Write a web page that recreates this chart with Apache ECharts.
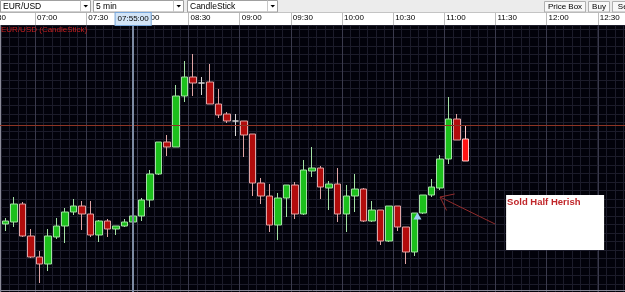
<!DOCTYPE html>
<html>
<head>
<meta charset="utf-8">
<script src="https://cdn.jsdelivr.net/npm/echarts@6/dist/echarts.min.js"></script>
<style>
  html, body { margin: 0; padding: 0; background: #000; overflow: hidden; }
  #chart { width: 625px; height: 292px; }
</style>
</head>
<body>
<div id="chart"></div>
<script>
(function () {
  'use strict';

  var FONT = '"Liberation Sans", Arial, sans-serif';

  // time slots (5 min bars)
  var firstSlot = '06:30';
  var lastSlot = '12:45';
  var firstCandle = '06:40';
  var tickLabels = ['06:30', '07:00', '07:30', '08:00', '08:30', '09:00', '09:30',
    '10:00', '10:30', '11:00', '11:30', '12:00', '12:30'];

  // EUR/USD 5 min bars, 06:40 .. 11:10
  var opens = [1.3201, 1.3203, 1.3221, 1.3189, 1.3168, 1.3161, 1.3188, 1.3199, 1.3213, 1.3219,
    1.3211, 1.3190, 1.3204, 1.3196, 1.3199, 1.3203, 1.3209, 1.3225, 1.3251, 1.3283,
    1.3278, 1.3329, 1.3348, 1.3342, 1.3343, 1.3321, 1.3311, 1.3304, 1.3304, 1.3291,
    1.3242, 1.3229, 1.3200, 1.3227, 1.3240, 1.3211, 1.3254, 1.3257, 1.3237, 1.3241,
    1.3211, 1.3229, 1.3236, 1.3204, 1.3215, 1.3184, 1.3219, 1.3198, 1.3173, 1.3212,
    1.3230, 1.3237, 1.3266, 1.3306, 1.3286];
  var closes = [1.3204, 1.3221, 1.3189, 1.3168, 1.3161, 1.3189, 1.3199, 1.3213, 1.3219, 1.3211,
    1.3190, 1.3204, 1.3196, 1.3199, 1.3203, 1.3209, 1.3225, 1.3251, 1.3283, 1.3278,
    1.3329, 1.3348, 1.3342, 1.3342, 1.3321, 1.3310, 1.3304, 1.3304, 1.3290, 1.3242,
    1.3229, 1.3200, 1.3227, 1.3240, 1.3211, 1.3255, 1.3257, 1.3238, 1.3241, 1.3211,
    1.3229, 1.3236, 1.3204, 1.3215, 1.3184, 1.3219, 1.3198, 1.3173, 1.3212, 1.3230,
    1.3238, 1.3266, 1.3306, 1.3285, 1.3264];
  var lows = [1.3194, 1.3198, 1.3188, 1.3167, 1.3142, 1.3154, 1.3186, 1.3182, 1.3210, 1.3195,
    1.3188, 1.3183, 1.3188, 1.3190, 1.3198, 1.3199, 1.3204, 1.3218, 1.3250, 1.3269,
    1.3278, 1.3323, 1.3329, 1.3330, 1.3321, 1.3307, 1.3302, 1.3289, 1.3268, 1.3229,
    1.3221, 1.3193, 1.3185, 1.3208, 1.3206, 1.3210, 1.3248, 1.3226, 1.3215, 1.3203,
    1.3193, 1.3213, 1.3203, 1.3203, 1.3180, 1.3183, 1.3194, 1.3161, 1.3169, 1.3211,
    1.3228, 1.3235, 1.3261, 1.3285, 1.3264];
  var highs = [1.3207, 1.3228, 1.3223, 1.3196, 1.3174, 1.3196, 1.3207, 1.3217, 1.3226, 1.3224,
    1.3224, 1.3205, 1.3206, 1.3199, 1.3206, 1.3212, 1.3227, 1.3255, 1.3283, 1.3290,
    1.3340, 1.3364, 1.3371, 1.3348, 1.3361, 1.3336, 1.3313, 1.3311, 1.3304, 1.3291,
    1.3247, 1.3241, 1.3232, 1.3240, 1.3243, 1.3265, 1.3278, 1.3259, 1.3244, 1.3257,
    1.3240, 1.3251, 1.3237, 1.3224, 1.3215, 1.3219, 1.3219, 1.3198, 1.3212, 1.3230,
    1.3246, 1.3270, 1.3328, 1.3311, 1.3299];

  var priceLine = 1.3272;
  var cursorTime = '07:55';
  var cursorLabel = '07:55:00';
  var signalTime = '10:40';
  var signalPrice = 1.3209;
  var noteText = 'Sold Half Herish';
  var noteTip = ['10:55', 1.3228];
  var noteTail = ['11:25', 1.3201];
  var noteCorner = ['11:35', 1.3230];
  var seriesTitle = 'EUR/USD (CandleStick)';
  var pickers = ['EUR/USD', '5 min', 'CandleStick'];
  var buttons = ['Price Box', 'Buy', 'Sell'];

  function toMin(t) { var p = t.split(':'); return +p[0] * 60 + +p[1]; }
  function fmt(m) { return ('0' + Math.floor(m / 60)).slice(-2) + ':' + ('0' + (m % 60)).slice(-2); }

  var slots = [];
  for (var m = toMin(firstSlot); m <= toMin(lastSlot); m += 5) slots.push(fmt(m));
  var edges = slots.concat([fmt(toMin(lastSlot) + 5)]);
  var startIdx = slots.indexOf(firstCandle);

  var candles = slots.map(function (t, i) {
    var k = i - startIdx;
    if (k < 0 || k >= opens.length) return ['-', '-', '-', '-'];
    return [opens[k], closes[k], lows[k], highs[k]];
  });
  var lastIdx = startIdx + opens.length - 1;
  candles[lastIdx] = { value: candles[lastIdx], itemStyle: { color0: '#ff1414', borderColor0: '#ffcaca' } };

  function onTick(i, v) { return tickLabels.indexOf(v) >= 0; }

  var BAND = 8.525;
  var chart = echarts.init(document.getElementById('chart'), null, { renderer: 'canvas' });

  chart.setOption({
    backgroundColor: '#02020a',
    animation: false,
    title: {
      text: seriesTitle, left: 1, top: 26, padding: 0,
      textStyle: { fontFamily: FONT, fontSize: 8, fontWeight: 'normal', color: '#c42020' },
    },
    grid: {
      left: 1 - 2 * BAND, top: 25, width: slots.length * BAND, height: 267.6,
      containLabel: false, outerBoundsMode: 'none',
    },
    xAxis: [{
      type: 'category', data: slots, position: 'bottom', boundaryGap: true,
      axisLine: { show: false }, axisTick: { show: false }, axisLabel: { show: false },
      splitLine: { show: true, interval: 0, lineStyle: { color: '#1c1c2a', width: 1 } },
    }, {
      type: 'category', data: edges, position: 'top', boundaryGap: false,
      axisLine: { show: false },
      axisTick: { show: true, interval: onTick, length: 12, lineStyle: { color: '#bdbdbd' } },
      axisLabel: {
        interval: onTick, align: 'left', margin: 3, padding: [0, 0, 0, 2],
        fontFamily: FONT, fontSize: 8, color: '#000',
      },
      splitLine: { show: true, interval: onTick, lineStyle: { color: '#3a3a4c', width: 1 } },
    }],
    yAxis: {
      type: 'value', min: 1.31324, max: 1.3400, interval: 0.00085,
      axisLine: { show: false }, axisTick: { show: false }, axisLabel: { show: false },
      splitLine: { show: true, lineStyle: { color: '#1c1c2a', width: 1 } },
    },
    series: [{
      type: 'candlestick',
      xAxisIndex: 0,
      yAxisIndex: 0,
      barWidth: 7,
      data: candles,
      itemStyle: {
        color: '#1cc01c', color0: '#b20c0c',
        borderColor: '#a4e2a4', borderColor0: '#e0a4a4', borderColorDoji: '#d8d8d8',
        borderWidth: 1,
      },
      markLine: {
        silent: true, symbol: 'none', animation: false,
        data: [
          { yAxis: priceLine, lineStyle: { color: '#8e3424', width: 1, type: 'solid' }, label: { show: false } },
          {
            xAxis: cursorTime,
            lineStyle: { color: '#7c8aa2', width: 2, type: 'solid' },
            label: {
              show: true, position: 'end', distance: 0, formatter: cursorLabel,
              fontFamily: FONT, fontSize: 8, lineHeight: 10, color: '#000',
              backgroundColor: '#d2e4f6', borderColor: '#78a6da', borderWidth: 1,
              padding: [1, 2, 1, 2],
            },
          },
        ],
      },
      markPoint: {
        silent: true, animation: false,
        symbol: 'triangle', symbolSize: [8, 7], symbolOffset: [3, 0],
        itemStyle: { color: '#9ccff3' },
        label: { show: false },
        data: [{ coord: [signalTime, signalPrice] }],
      },
    }],
  });

  // pixel from a slot + fraction of a band and a price, via the axes
  function px(t, frac, price) {
    var i = slots.indexOf(t);
    var a = chart.convertToPixel({ seriesIndex: 0 }, [i, price]);
    var b = chart.convertToPixel({ seriesIndex: 0 }, [i + 1, price]);
    return [a[0] + (b[0] - a[0]) * frac, a[1]];
  }

  var g = [];
  // top toolbar
  g.push({ type: 'rect', z: -1, shape: { x: 0, y: 0, width: 625, height: 13 }, style: { fill: '#ececec' } });
  g.push({ type: 'rect', z: -1, shape: { x: 0, y: 13, width: 625, height: 12 }, style: { fill: '#ffffff' } });
  g.push({ type: 'line', z: -1, shape: { x1: 0, y1: 12.5, x2: 625, y2: 12.5 }, style: { stroke: '#c4c4c4', lineWidth: 1 } });
  var pickX = [0, 93, 187];
  pickers.forEach(function (txt, i) {
    var x0 = pickX[i];
    g.push({ type: 'rect', shape: { x: x0 + 0.5, y: 0.5, width: 90, height: 11.5 }, style: { fill: '#fff', stroke: '#a0a0a0', lineWidth: 1 } });
    g.push({ type: 'line', shape: { x1: x0 + 80.5, y1: 0.5, x2: x0 + 80.5, y2: 12 }, style: { stroke: '#c8c8c8', lineWidth: 1 } });
    g.push({ type: 'polygon', shape: { points: [[x0 + 83.5, 5], [x0 + 88, 5], [x0 + 85.75, 7.5]] }, style: { fill: '#000' } });
    g.push({ type: 'text', style: { x: x0 + 3, y: 6.5, text: txt, fontFamily: FONT, fontSize: 8.5, fill: '#000', verticalAlign: 'middle' } });
  });
  var btnX = [544, 588, 612];
  var btnW = [41, 21, 24];
  buttons.forEach(function (txt, i) {
    g.push({ type: 'rect', shape: { x: btnX[i] + 0.5, y: 1.5, width: btnW[i], height: 10.5 }, style: { fill: '#f8f8f8', stroke: '#b0b0b0', lineWidth: 1 } });
    g.push({ type: 'text', style: { x: btnX[i] + 0.5 + btnW[i] / 2, y: 7, text: txt, fontFamily: FONT, fontSize: 8, fill: '#000', align: 'center', verticalAlign: 'middle' } });
  });
  // frame of the plot
  g.push({ type: 'line', shape: { x1: 0.5, y1: 25, x2: 0.5, y2: 292 }, style: { stroke: '#8a8a98', lineWidth: 1 } });
  g.push({ type: 'line', shape: { x1: 0, y1: 290.5, x2: 625, y2: 290.5 }, style: { stroke: '#8a8a98', lineWidth: 1 } });

  // annotation: arrow + note box
  var tip = px(noteTip[0], 0, noteTip[1]);
  var tail = px(noteTail[0], 0.45, noteTail[1]);
  var ang = Math.atan2(tail[1] - tip[1], tail[0] - tip[0]);
  var hl = 15, spread = 0.66;
  var h1 = [tip[0] + hl * Math.cos(ang - spread), tip[1] + hl * Math.sin(ang - spread)];
  var h2 = [tip[0] + hl * Math.cos(ang + spread), tip[1] + hl * Math.sin(ang + spread)];
  var arrowStyle = { stroke: '#922c2c', lineWidth: 1, fill: null };
  g.push({ type: 'polyline', z: 10, shape: { points: [tail, tip] }, style: arrowStyle });
  g.push({ type: 'polyline', z: 10, shape: { points: [h1, tip, h2] }, style: arrowStyle });
  var corner = px(noteCorner[0], -0.25, noteCorner[1]);
  g.push({ type: 'rect', z: 10, shape: { x: corner[0], y: corner[1], width: 98, height: 55 }, style: { fill: '#ffffff' } });
  g.push({ type: 'text', z: 11, style: { x: corner[0] + 1, y: corner[1] + 2, text: noteText, fontFamily: FONT, fontSize: 9.5, fontWeight: 'bold', fill: '#c0262a' } });

  chart.setOption({ graphic: g });
})();
</script>
</body>
</html>
